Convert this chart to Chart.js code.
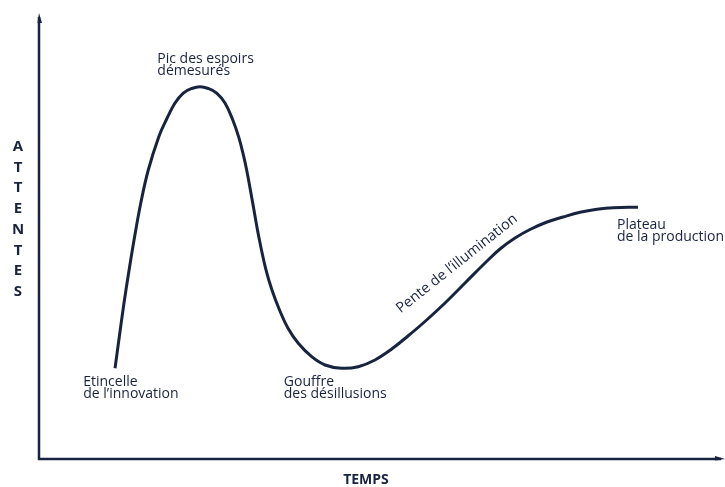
<!DOCTYPE html>
<html>
<head>
<meta charset="utf-8">
<script src="https://cdn.jsdelivr.net/npm/chart.js@4.4.1/dist/chart.umd.min.js"></script>
<style>
  html, body { margin: 0; padding: 0; background: #fff; }
  #wrap { width: 725px; height: 487px; }
</style>
</head>
<body>
<div id="wrap"><canvas id="hype"></canvas></div>
<script>
// courbe du hype cycle (temps 0-100, attentes 0-100)
const TEMPS = [11.18, 11.81, 12.50, 13.25, 14.06, 14.97, 16.07, 17.62, 18.71, 20.00, 21.22, 22.46, 23.68, 24.90, 26.13, 27.35, 28.50, 29.35, 30.00, 30.54, 31.43, 32.32, 33.38, 34.26, 35.37, 36.62, 38.13, 40.10, 42.06, 44.51, 46.96, 49.41, 51.87, 54.26, 56.76, 59.71, 62.65, 65.59, 67.79, 70.00, 72.21, 74.71, 77.06, 79.56, 82.06, 84.41, 88.09];
const ATTENTES = [20.34, 27.42, 34.98, 42.38, 49.84, 57.40, 64.80, 72.27, 76.01, 79.82, 82.06, 83.07, 83.48, 83.07, 82.06, 79.82, 76.01, 72.27, 68.54, 64.80, 57.40, 49.84, 42.38, 37.89, 33.41, 29.30, 25.94, 22.94, 21.08, 20.34, 20.70, 22.20, 24.66, 27.58, 30.83, 34.98, 39.46, 43.95, 47.09, 49.55, 51.46, 53.14, 54.26, 55.31, 55.99, 56.35, 56.43];

const PHASES = [
  ['Etincelle', 'de l\u2019innovation'],
  ['Pic des espoirs', 'démesurés'],
  ['Gouffre', 'des désillusions'],
  ['Pente de l\u2019illumination'],
  ['Plateau', 'de la production']
];
const AXE_Y = 'ATTENTES';
const AXE_X = 'TEMPS';

// placement des libellés (en unités des axes)
const PHASE_POS = [
  { x: 6.5, y: 16.4, angle: 0 },
  { x: 17.4, y: 88.8, angle: 0 },
  { x: 36.0, y: 16.4, angle: 0 },
  { x: 53.2, y: 32.6, angle: -38.5 },
  { x: 85.0, y: 51.6, angle: 0 }
];

const NAVY = '#18233f';
const FONT = '"Open Sans", sans-serif';

const hypeDecor = {
  id: 'hypeDecor',
  afterDraw(chart){
    const ctx = chart.ctx;
    const a = chart.chartArea;
    const xs = chart.scales.x, ys = chart.scales.y;
    ctx.save();
    // axes
    ctx.strokeStyle = NAVY;
    ctx.fillStyle = NAVY;
    ctx.lineWidth = 2.5;
    ctx.beginPath();
    ctx.moveTo(a.left, a.top + 4);
    ctx.lineTo(a.left, a.bottom);
    ctx.lineTo(a.right + 2, a.bottom);
    ctx.stroke();
    // fleches
    ctx.beginPath();
    ctx.moveTo(a.left, a.top);
    ctx.lineTo(a.left + 3, a.top + 10);
    ctx.lineTo(a.left - 1.5, a.top + 10);
    ctx.closePath();
    ctx.fill();
    ctx.beginPath();
    ctx.moveTo(a.right + 6, a.bottom);
    ctx.lineTo(a.right - 4, a.bottom - 3);
    ctx.lineTo(a.right - 4, a.bottom + 1.5);
    ctx.closePath();
    ctx.fill();

    // titres des axes
    ctx.font = 'bold 15px ' + FONT;
    ctx.textAlign = 'center';
    ctx.textBaseline = 'alphabetic';
    AXE_Y.split('').forEach((c, i) => ctx.fillText(c, 18, 151 + i * 20.7));
    ctx.font = 'bold 14px ' + FONT;
    ctx.fillText(AXE_X, 366, 484);

    // phases
    ctx.textAlign = 'left';
    PHASES.forEach((lines, i) => {
      const p = PHASE_POS[i];
      ctx.font = (p.angle ? '14.5px ' : '14px ') + FONT;
      ctx.save();
      ctx.translate(xs.getPixelForValue(p.x), ys.getPixelForValue(p.y));
      ctx.rotate(p.angle * Math.PI / 180);
      lines.forEach((t, j) => ctx.fillText(t, 0, j * 12));
      ctx.restore();
    });
    ctx.restore();
  }
};

new Chart(document.getElementById('hype'), {
  type: 'line',
  data: {
    datasets: [{
      data: TEMPS.map((t, i) => ({ x: t, y: ATTENTES[i] })),
      borderColor: NAVY,
      borderWidth: 3,
      pointRadius: 0,
      fill: false,
      tension: 0.4
    }]
  },
  options: {
    responsive: true,
    maintainAspectRatio: false,
    animation: false,
    layout: { padding: { left: 39, right: 6, top: 13, bottom: 28 } },
    plugins: { legend: { display: false }, tooltip: { enabled: false } },
    scales: {
      x: { type: 'linear', min: 0, max: 100, display: false },
      y: { type: 'linear', min: 0, max: 100, display: false }
    }
  },
  plugins: [hypeDecor]
});
</script>
</body>
</html>
